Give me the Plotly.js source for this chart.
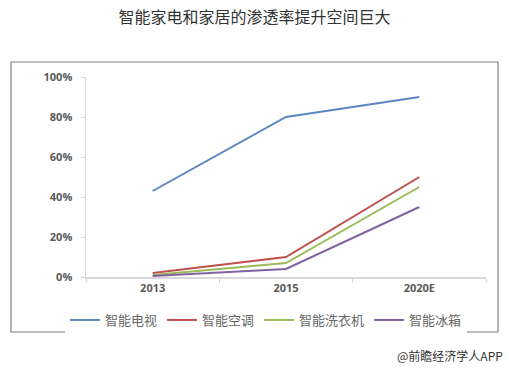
<!DOCTYPE html>
<html>
<head>
<meta charset="utf-8">
<script src="https://cdn.plot.ly/plotly-3.0.1.min.js"></script>
<style>html,body{margin:0;padding:0;background:#fff;}#chart{width:509px;height:369px;}</style>
</head>
<body>
<div id="chart"></div>
<script>
const categories = ["2013", "2015", "2020E"];
const seriesNames = ["智能电视", "智能空调", "智能洗衣机", "智能冰箱"];
const tv = [0.43, 0.80, 0.90];
const ac = [0.02, 0.10, 0.50];
const washer = [0.01, 0.07, 0.45];
const fridge = [0.005, 0.04, 0.35];
const colors = ["#5b86c2", "#c0504d", "#9bbb59", "#8064a2"];
const yTicks = [0, 0.2, 0.4, 0.6, 0.8, 1.0];
const yTickLabels = ["0%", "20%", "40%", "60%", "80%", "100%"];

const values = [tv, ac, washer, fridge];
const traces = values.map((v, i) => ({
  type: "scatter", mode: "lines", x: categories, y: v, name: seriesNames[i],
  line: {color: colors[i], width: 2}
}));

const font = "'Noto Sans CJK SC', 'Open Sans', sans-serif";
const layout = {
  width: 509, height: 369,
  margin: {l: 86, r: 23, t: 77, b: 92},
  paper_bgcolor: "#fff", plot_bgcolor: "#fff",
  showlegend: true,
  title: {text: "智能家电和家居的渗透率提升空间巨大", x: 0.5, xanchor: "center", y: 0.952, yanchor: "middle",
          font: {family: font, size: 16, color: "#333"}},
  xaxis: {type: "category", range: [-0.5, 2.5], showgrid: false, zeroline: false, showline: true, linecolor: "#d9d9d9", linewidth: 1.5,
          ticks: "outside", ticklen: 4, tickcolor: "#d9d9d9", tickson: "boundaries",
          tickfont: {family: "'Open Sans', sans-serif", size: 11, color: "#595959", weight: "bold"},
          fixedrange: true},
  yaxis: {range: [0, 1], tickvals: yTicks, ticktext: yTickLabels, showgrid: false, zeroline: false,
          showline: true, linecolor: "#d9d9d9", linewidth: 1.5, ticks: "outside", ticklen: 4, tickcolor: "#d9d9d9",
          ticklabelstandoff: 6,
          tickfont: {family: "'Open Sans', sans-serif", size: 11, color: "#595959", weight: "bold"}},
  legend: {orientation: "h", x: 0.45, xanchor: "center", y: -0.215, yanchor: "middle",
           font: {family: font, size: 13, color: "#666"}, itemwidth: 30},
  shapes: [{type: "rect", xref: "paper", yref: "paper", x0: -0.1875, x1: 1.03, y0: -0.275, y1: 1.075,
            line: {color: "#808080", width: 1.2}, fillcolor: "rgba(0,0,0,0)", layer: "below"}],
  annotations: [{text: "@前瞻经济学人APP", xref: "paper", yref: "paper", x: 1.0475, y: -0.39,
                 xanchor: "right", yanchor: "middle", showarrow: false,
                 font: {family: font, size: 12, color: "#333"}}]
};
Plotly.newPlot("chart", traces, layout, {displayModeBar: false, staticPlot: true});
</script>
</body>
</html>
